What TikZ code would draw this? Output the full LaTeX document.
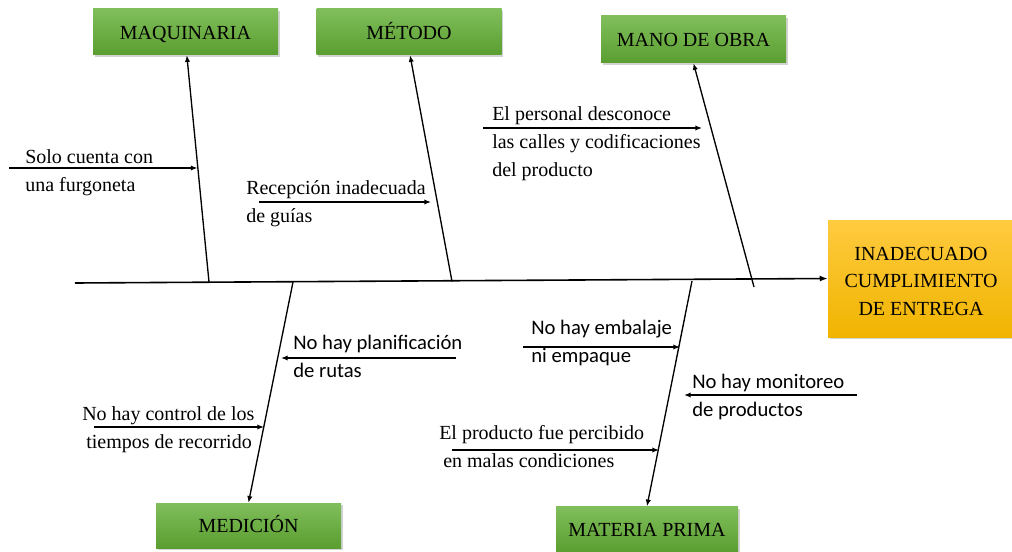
\documentclass[tikz,border=0pt]{standalone}
\usepackage{fontspec}
\setmainfont{Liberation Serif}
\newfontfamily\sansf{Carlito}
\usetikzlibrary{arrows.meta,shadows}
\definecolor{gtop}{HTML}{80BE5B}
\definecolor{gbot}{HTML}{5A9E30}
\definecolor{otop}{HTML}{FFCB40}
\definecolor{obot}{HTML}{F0B400}
\begin{document}
\begin{tikzpicture}[x=0.75pt,y=-0.75pt,
  cat/.style={top color=gtop,bottom color=gbot,draw=none,minimum width=138.75pt,minimum height=34.5pt,inner sep=0pt,
    font=\fontsize{15}{18}\selectfont,text=black,text height=11pt,text depth=0pt,
    drop shadow={opacity=0.35,shadow xshift=1.2pt,shadow yshift=-1.5pt}},
  eff/.style={top color=otop,bottom color=obot,draw=none,minimum width=139.5pt,minimum height=87.75pt,inner sep=0pt,
    align=center,font=\fontsize{15}{20.6}\selectfont,text=black,text height=55pt,text depth=0pt,
    drop shadow={opacity=0.35,shadow xshift=1.2pt,shadow yshift=-1.5pt}},
  spine/.style={line width=1.2pt,-{Latex[length=6pt,width=4.5pt]}},
  bone/.style={line width=1pt,-{Latex[length=5pt,width=4pt]}},
  small/.style={line width=1pt,-{Latex[length=5pt,width=4pt]}},
  lbl/.style={anchor=north west,inner sep=0pt,align=left,font=\fontsize{15}{21}\selectfont},
  slbl/.style={anchor=north west,inner sep=0pt,align=left,font=\sansf\fontsize{15.5}{21}\selectfont}]
\useasboundingbox (0,0) rectangle (1012,552);

% category boxes
\node[cat] (maq) at (185.5,32) {MAQUINARIA};
\node[cat] (met) at (409,32) {MÉTODO};
\node[cat,minimum height=35.25pt] (mano) at (693.5,39.5) {MANO DE OBRA};
\node[cat,minimum height=33.75pt] (med) at (248.5,525.5) {MEDICIÓN};
\node[cat,minimum width=136.5pt] (mat) at (647,529.5) {MATERIA PRIMA};
\node[eff] (efe) at (921,278.5) {INADECUADO\\CUMPLIMIENTO\\DE ENTREGA};

% spine
\coordinate (sL) at (75,283);
\draw[spine] (sL) -- (efe.west);

% bones
\coordinate (b1) at (209,282);
\coordinate (b2) at (452,281.5);
\coordinate (b3) at (754,287);
\coordinate (b4) at (293,282);
\coordinate (b5) at (692,281);
\draw[bone] (b1) -- ([xshift=1pt]maq.south);
\draw[bone] (b2) -- ([xshift=0.8pt]met.south);
\draw[bone] (b3) -- (mano.south);
\draw[bone] (b4) -- (med.north);
\draw[bone] (b5) -- (mat.north);

% cause arrows
\coordinate (a1s) at (9,168);   \coordinate (a1e) at (197.5,168);
\coordinate (a2s) at (259,202); \coordinate (a2e) at (431,202);
\coordinate (a3s) at (483,128); \coordinate (a3e) at (702,128);
\coordinate (a4s) at (456,358); \coordinate (a4e) at (281,358);
\coordinate (a5s) at (94,427);  \coordinate (a5e) at (264,427);
\coordinate (a6s) at (523,347); \coordinate (a6e) at (680,347);
\coordinate (a7s) at (857,395); \coordinate (a7e) at (684,395);
\coordinate (a8s) at (452,450); \coordinate (a8e) at (659,450);
\draw[small] (a1s) -- (a1e);
\draw[small] (a2s) -- (a2e);
\draw[small] (a3s) -- (a3e);
\draw[small] (a4s) -- (a4e);
\draw[small] (a5s) -- (a5e);
\draw[small] (a6s) -- (a6e);
\draw[small] (a7s) -- (a7e);
\draw[small] (a8s) -- (a8e);

% labels
\node[lbl] (t1) at (25,149.5) {Solo cuenta con\\una furgoneta};
\node[lbl] (t2) at (246,180.5) {Recepción inadecuada\\de guías};
\node[lbl] (t3) at (492,106) {El personal desconoce\\las calles y codificaciones\\del producto};
\node[slbl] (t4) at (293,335) {No hay planificación\\de rutas};
\node[lbl] (t5) at (82,406.5) {No hay control de los\\\hspace*{3pt}tiempos de recorrido};
\node[slbl] (t6) at (531,320) {No hay embalaje\\ni empaque};
\node[slbl] (t7) at (692,374) {No hay monitoreo\\de productos};
\node[lbl] (t8) at (439,425) {El producto fue percibido\\\hspace*{3pt}en malas condiciones};
\end{tikzpicture}
\end{document}
